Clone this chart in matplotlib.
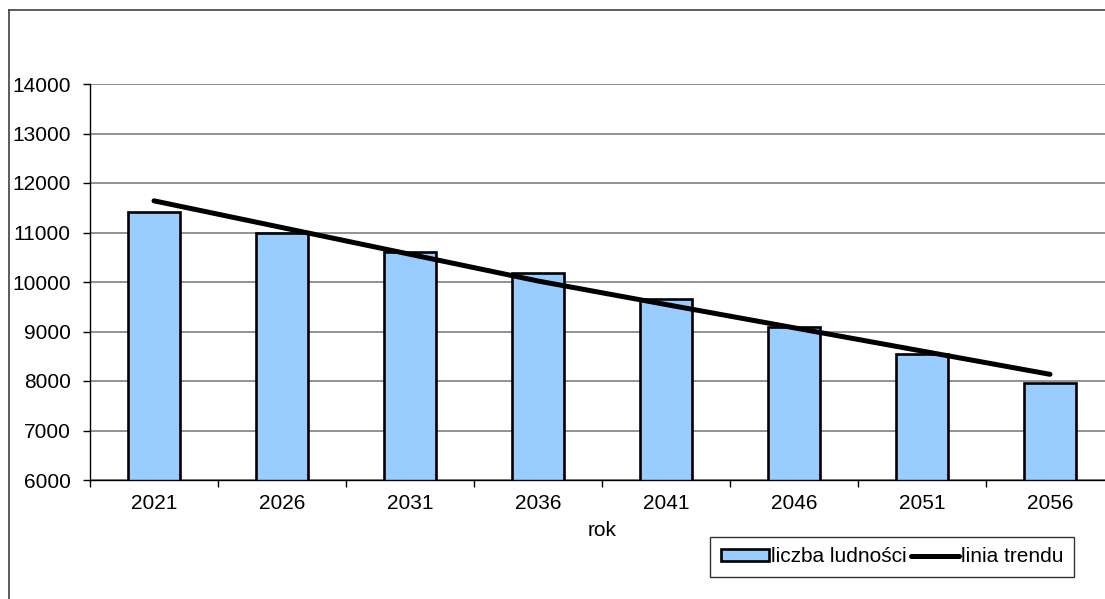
import matplotlib
matplotlib.use('Agg')
import matplotlib.pyplot as plt
from matplotlib.lines import Line2D
import numpy as np

years = ['2021', '2026', '2031', '2036', '2041', '2046', '2051', '2056']
population = [11410, 10990, 10615, 10175, 9650, 9100, 8540, 7960]
trend = [11640, 11100, 10560, 10020, 9545, 9075, 8605, 8135]

plt.rcParams['font.family'] = ['Liberation Sans', 'DejaVu Sans']
fs = 15

fig = plt.figure(figsize=(11.05, 5.99), dpi=100)
ax = fig.add_axes([90 / 1105, 1 - 480 / 599, 1024 / 1105, 396 / 599])

x = np.arange(len(years))
bars = ax.bar(x, population, width=0.4, color='#99ccff', edgecolor='black',
              linewidth=1.9, label='liczba ludności', zorder=2)
line, = ax.plot(x, trend, color='black', linewidth=3.6, solid_capstyle='round',
                label='linia trendu', zorder=3)

ax.set_xlim(-0.5, len(years) - 0.5)
ax.set_ylim(6000, 14000)
ax.set_yticks(range(6000, 14001, 1000))
ax.yaxis.grid(True, color='#808080', linewidth=1.2, zorder=0)
ax.set_axisbelow(True)

ax.set_xticks(x)
ax.set_xticklabels(years)
ax.set_xticks(np.arange(-0.5, len(years), 1), minor=True)
ax.tick_params(axis='x', which='major', length=0, pad=10, labelsize=fs)
ax.tick_params(axis='x', which='minor', length=5, width=1, direction='out')
ax.tick_params(axis='y', length=5, width=1, direction='out', pad=9, labelsize=fs)

for s in ['top', 'right']:
    ax.spines[s].set_visible(False)
ax.spines['left'].set_linewidth(1)
ax.spines['bottom'].set_linewidth(1)

ax.set_xlabel('rok', fontsize=fs, labelpad=6)

leg = ax.legend([bars, line], ['liczba ludności', 'linia trendu'],
                loc='center', bbox_to_anchor=(892 / 1105, 1 - 557 / 599),
                bbox_transform=fig.transFigure, ncol=2, fontsize=fs,
                frameon=True, fancybox=False, edgecolor='black',
                handlelength=2.3, handleheight=0.45, handletextpad=0.1,
                columnspacing=0.2, borderpad=0.5, borderaxespad=0)
leg.get_frame().set_linewidth(1)

# outer chart frame
fig.add_artist(Line2D([9 / 1105, 1], [1 - 10 / 599, 1 - 10 / 599],
                      transform=fig.transFigure, color='#404040', linewidth=1.2))
fig.add_artist(Line2D([9 / 1105, 9 / 1105], [0, 1 - 10 / 599],
                      transform=fig.transFigure, color='#404040', linewidth=1.2))

fig.savefig('out.png', dpi=100)
plt.close(fig)
